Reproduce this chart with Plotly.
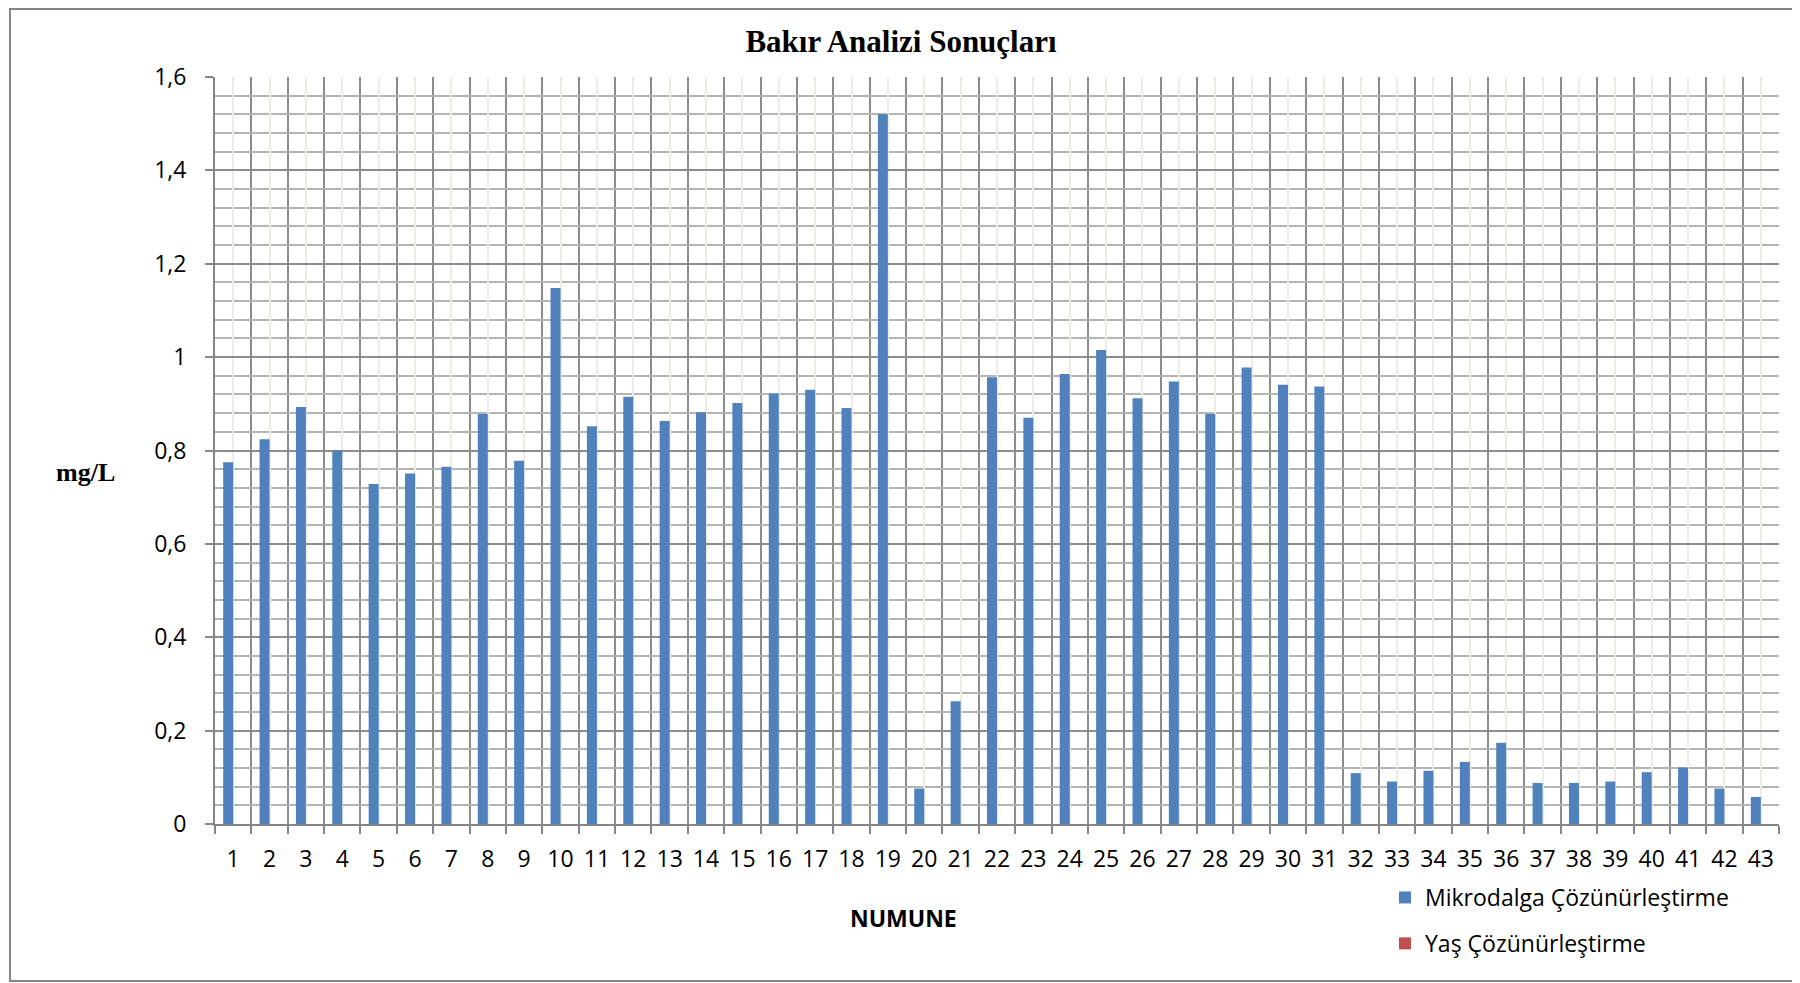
import plotly.graph_objects as go

# ---- data ----
numune = list(range(1, 44))
tick_labels = [str(n) for n in numune]
mikrodalga = [0.775, 0.824, 0.893, 0.800, 0.728, 0.751, 0.765, 0.878, 0.778, 1.148,
              0.852, 0.915, 0.863, 0.882, 0.902, 0.922, 0.930, 0.891, 1.520, 0.076,
              0.263, 0.957, 0.870, 0.964, 1.015, 0.912, 0.948, 0.878, 0.978, 0.941,
              0.937, 0.109, 0.091, 0.114, 0.133, 0.174, 0.088, 0.088, 0.091, 0.111,
              0.121, 0.076, 0.058]
yas = [0] * 43
series_names = ["Mikrodalga Çözünürleştirme", "Yaş Çözünürleştirme"]
title_text = "Bakır Analizi Sonuçları"

# page body has an 8px margin; figure coords = page coords - 8
OFF = 8
W, H = 1800, 983
ML, MT = 215 - OFF, 77 - OFF
pw, ph = 1564, 747
MR = W - ML - pw
MB = H - MT - ph

def px(xp):  # page x -> paper x
    return (xp - OFF - ML) / pw

def py(yp):  # page y -> paper y
    return (MT + ph - (yp - OFF)) / ph

sans = "Open Sans"
serif = "Liberation Serif"

fig = go.Figure()
fig.add_trace(go.Bar(x=numune, y=mikrodalga, name=series_names[0],
                     marker=dict(color="#4F81BD", line=dict(width=0)),
                     legendgroup="a"))
fig.add_trace(go.Bar(x=numune, y=yas, name=series_names[1],
                     marker=dict(color="#C0504D", line=dict(width=0)),
                     legendgroup="b"))

fig.update_layout(
    width=W, height=H,
    margin=dict(l=ML, r=MR, t=MT, b=MB, autoexpand=False),
    paper_bgcolor="white", plot_bgcolor="white",
    separators=",.",
    barmode="group", bargap=0.45, bargroupgap=0,
    font=dict(family=sans, size=23, color="black"),
    title=dict(text="<b>" + title_text + "</b>", x=px(901), xanchor="center",
               xref="paper", y=1 - (41 - OFF) / H, yanchor="middle",
               font=dict(family=serif, size=31, color="black")),
    showlegend=True,
    legend=dict(x=px(1385), y=py(876), xanchor="left", yanchor="top",
                orientation="v", traceorder="grouped", tracegroupgap=13,
                itemwidth=30, font=dict(family=sans, size=23),
                bgcolor="rgba(0,0,0,0)"),
    xaxis=dict(
        range=[0.5, 43.5], tickmode="array", tickvals=numune, ticktext=tick_labels,
        ticks="", showgrid=True, gridcolor="#EEECE1", gridwidth=1.5,
        showline=True, linecolor="#868686", linewidth=2,
        ticklabelstandoff=13, zeroline=False,
        tickfont=dict(family=sans, size=23),
        minor=dict(tick0=0.5, dtick=1, showgrid=True, gridcolor="#8C8C8C",
                   gridwidth=1.5, ticks="outside", ticklen=8, tickcolor="#868686",
                   tickwidth=2),
    ),
    yaxis=dict(
        range=[0, 1.6], dtick=0.2, tick0=0, showgrid=True, gridcolor="#8C8C8C",
        gridwidth=1.5, showline=True, linecolor="#868686", linewidth=2,
        ticks="outside", ticklen=8, tickcolor="#868686", tickwidth=2,
        zeroline=False, ticklabelstandoff=14,
        tickfont=dict(family=sans, size=23),
        minor=dict(dtick=0.04, showgrid=True, gridcolor="#B4B4B4", gridwidth=1.5),
    ),
    annotations=[
        dict(text="<b>mg/L</b>", x=px(85), y=py(473), xref="paper", yref="paper",
             showarrow=False, xanchor="center", yanchor="middle",
             font=dict(family=serif, size=26, color="black")),
        dict(text="<b>NUMUNE</b>", x=px(903), y=py(918), xref="paper", yref="paper",
             showarrow=False, xanchor="center", yanchor="middle",
             font=dict(family=sans, size=23, color="black")),
    ],
    shapes=[
        dict(type="rect", xref="paper", yref="paper",
             x0=px(10), x1=px(1794), y0=py(981), y1=py(OFF + 1),
             line=dict(color="#868686", width=2), fillcolor="rgba(0,0,0,0)",
             layer="above"),
    ],
)

fig.write_html("out.html")
